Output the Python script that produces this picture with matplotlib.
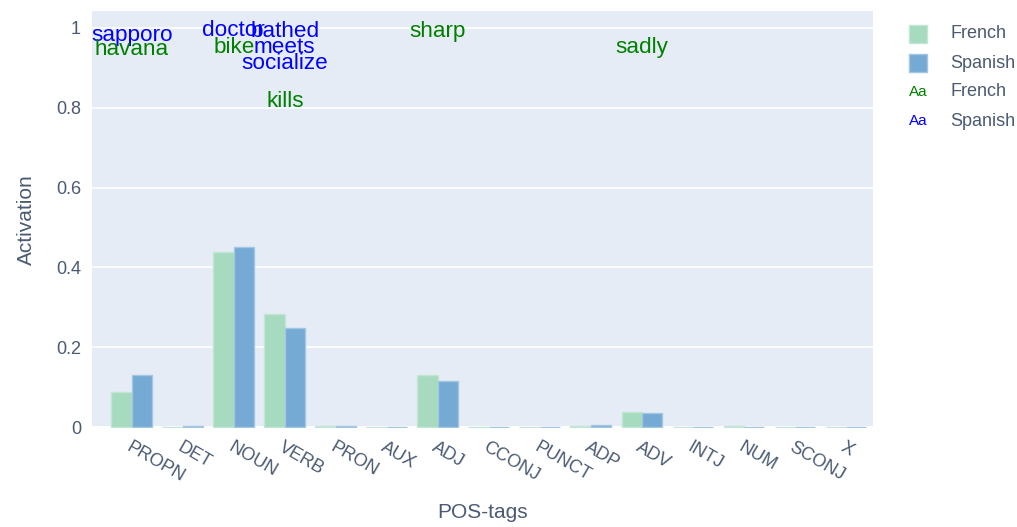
import numpy as np
import matplotlib
matplotlib.use("Agg")
import matplotlib.pyplot as plt
from matplotlib.patches import Rectangle

plt.rcParams["font.family"] = ["Liberation Sans", "DejaVu Sans"]

# ── data ──────────────────────────────────────────────────────────────────────
pos_tags = ["PROPN", "DET", "NOUN", "VERB", "PRON", "AUX", "ADJ", "CCONJ",
            "PUNCT", "ADP", "ADV", "INTJ", "NUM", "SCONJ", "X"]
french = [0.0875, 0.001, 0.4375, 0.2825, 0.003, 0.0, 0.13, 0.0,
          0.0, 0.002, 0.0375, 0.001, 0.002, 0.001, 0.001]
spanish = [0.13, 0.003, 0.45, 0.2475, 0.003, 0.0, 0.115, 0.0,
           0.0, 0.005, 0.035, 0.0, 0.001, 0.001, 0.001]

# top activating words: (word, pos tag, activation height, language)
words = ["sapporo", "havana", "doctor", "bike", "bathed", "meets",
         "socialize", "kills", "sharp", "sadly"]
word_tags = ["PROPN", "PROPN", "NOUN", "NOUN", "VERB", "VERB",
             "VERB", "VERB", "ADJ", "ADV"]
word_y = [0.98, 0.945, 0.9925, 0.952, 0.99, 0.95, 0.912, 0.815, 0.99, 0.95]
word_lang = ["Spanish", "French", "Spanish", "French", "Spanish", "Spanish",
             "Spanish", "French", "French", "French"]

# ── style ─────────────────────────────────────────────────────────────────────
bar_col = {"French": "#a6dbc0", "Spanish": "#74aad4"}
edge_col = {"French": "#c3e6d4", "Spanish": "#a3c6e3"}
txt_col = {"French": "green", "Spanish": "blue"}
ink = "#4a5a73"

fig = plt.figure(figsize=(10.17, 5.27), dpi=100)
ax = fig.add_axes([92 / 1017, 99 / 527, 781 / 1017, 417 / 527])
ax.set_facecolor("#e5ecf6")

x = np.arange(len(pos_tags))
w = 0.4
ax.bar(x - w / 2, french, w, color=bar_col["French"],
       edgecolor=edge_col["French"], linewidth=1, zorder=3)
ax.bar(x + w / 2, spanish, w, color=bar_col["Spanish"],
       edgecolor=edge_col["Spanish"], linewidth=1, zorder=3)

for wd, tg, yv, lg in zip(words, word_tags, word_y, word_lang):
    ax.text(pos_tags.index(tg), yv, wd, color=txt_col[lg], fontsize=16.2,
            ha="center", va="center", zorder=4, clip_on=False)

ax.set_xlim(-0.78, 14.53)
ax.set_ylim(-0.0025, 1.0426)
ax.set_yticks([0, 0.2, 0.4, 0.6, 0.8, 1])
ax.set_yticklabels(["0", "0.2", "0.4", "0.6", "0.8", "1"])
ax.set_xticks(x)
ax.set_xticklabels(pos_tags, rotation=-30, ha="left", va="top",
                   rotation_mode="anchor")
ax.tick_params(length=0, labelsize=13, colors=ink)
ax.tick_params(axis="x", pad=8)
ax.tick_params(axis="y", pad=8)
ax.grid(axis="y", color="white", linewidth=1.2, zorder=0)
ax.axhline(0, color="white", linewidth=2, zorder=1)
for s in ax.spines.values():
    s.set_visible(False)

ax.set_ylabel("Activation", fontsize=15, color=ink, labelpad=14)
ax.set_xlabel("POS-tags", fontsize=15, color=ink, labelpad=12)

# legend: bar swatches and text markers
rows = [("bar", "French"), ("bar", "Spanish"), ("txt", "French"), ("txt", "Spanish")]
for i, (kind, lang) in enumerate(rows):
    yc = 1 - (34 + 29 * i) / 527
    if kind == "bar":
        fig.add_artist(Rectangle((909 / 1017, yc - 9 / 527), 18 / 1017, 18 / 527,
                                 transform=fig.transFigure,
                                 facecolor=bar_col[lang],
                                 edgecolor=edge_col[lang], linewidth=1))
    else:
        fig.text(918 / 1017, yc, "Aa", color=txt_col[lang], fontsize=11,
                 ha="center", va="center")
    fig.text(950 / 1017, yc, lang, color=ink, fontsize=13, ha="left", va="center")

fig.savefig("out.png", dpi=100)
